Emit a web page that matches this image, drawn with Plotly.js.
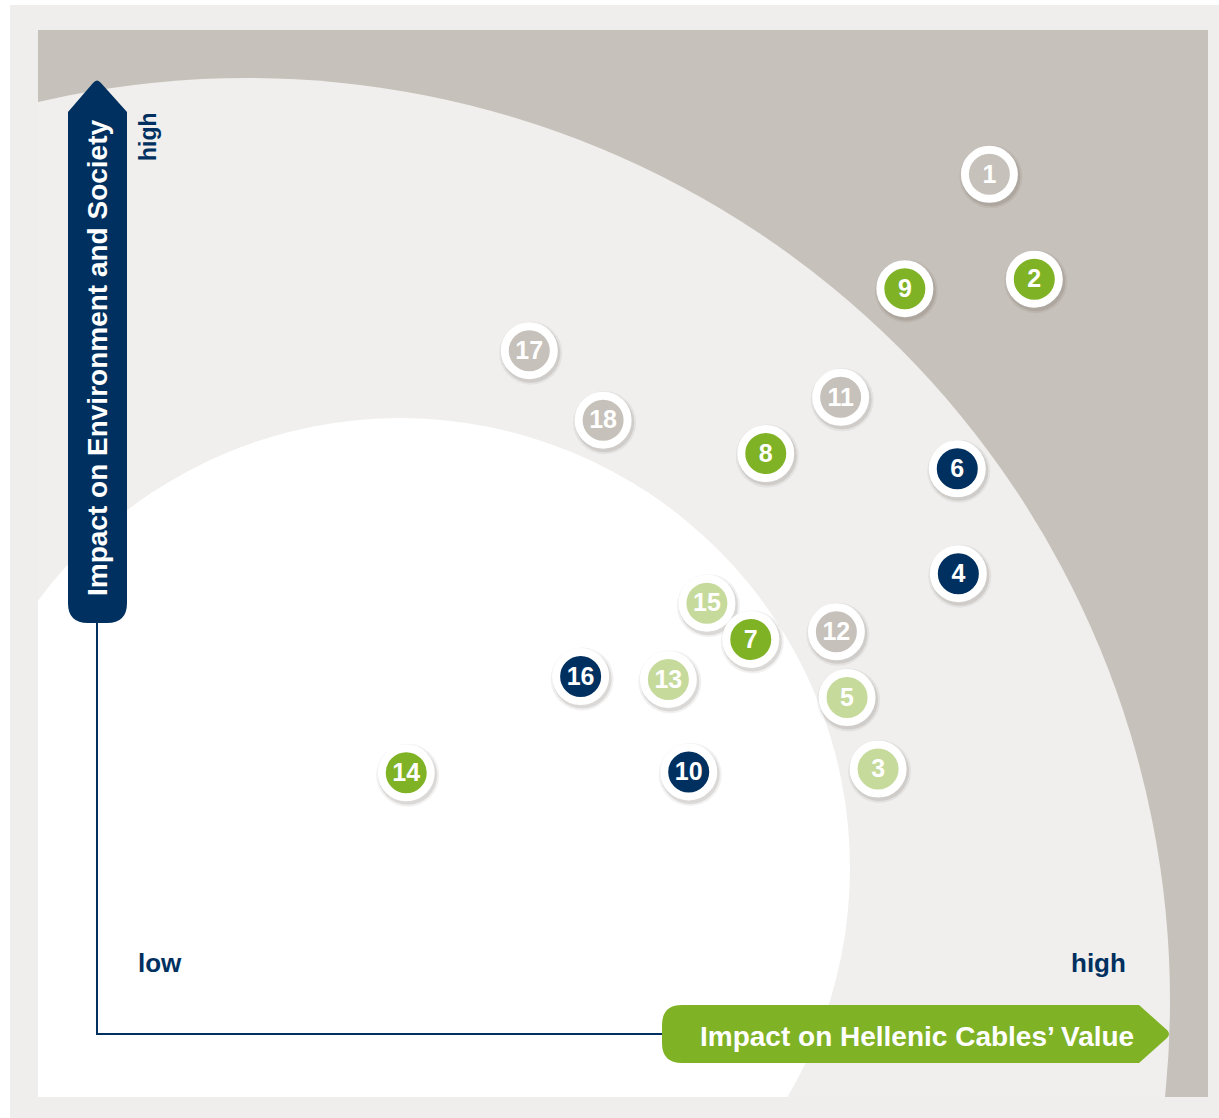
<!DOCTYPE html>
<html>
<head>
<meta charset="utf-8">
<script src="https://cdn.plot.ly/plotly-3.0.1.min.js"></script>
<style>
  html, body { margin: 0; padding: 0; background: #ffffff; }
  #chart { width: 1219px; height: 1118px; }
</style>
</head>
<body>
<div id="chart"></div>
<script>
  // materiality matrix: topic scores (0-10) on both axes
  const topicIds = [1, 2, 3, 4, 5, 6, 7, 8, 9, 10, 11, 12, 13, 14, 15, 16, 17, 18];
  const valueScore = [8.34, 8.76, 7.30, 8.05, 7.01, 8.04, 6.11, 6.25, 7.55, 5.53, 6.95, 6.91, 5.34, 2.89, 5.70, 4.52, 4.04, 4.73];
  const societyScore = [9.01, 7.91, 2.77, 4.82, 3.52, 5.92, 4.13, 6.08, 7.81, 2.74, 6.67, 4.21, 3.71, 2.73, 4.51, 3.74, 7.16, 6.43];
  const topicGroup = ["grey", "green", "lime", "navy", "lime", "navy", "green", "green", "green", "navy",
                      "grey", "grey", "lime", "green", "lime", "navy", "grey", "grey"];

  const groupColor = { navy: "#00305f", green: "#80b226", lime: "#c6da9c", grey: "#c6c1ba" };

  const W = 1219, H = 1118;
  // pixel frame of the score axes: origin at the axis corner
  const ORIGIN_X = 97, ORIGIN_Y = 1033, UNIT_X = 107, UNIT_Y = 95.3;

  const px = (x) => x / W;
  const py = (y) => 1 - y / H;

  function pathOf(pts) {
    // pts: list of [cmd, x, y, ...] in pixels -> paper path string
    return pts.map((p) => {
      const cmd = p[0];
      const nums = [];
      for (let i = 1; i < p.length; i += 2) nums.push(px(p[i]).toFixed(5) + "," + py(p[i + 1]).toFixed(5));
      return cmd + nums.join(" ");
    }).join(" ");
  }

  function rangeX(shiftPx) {
    return [(0 - ORIGIN_X - shiftPx) / UNIT_X, (W - ORIGIN_X - shiftPx) / UNIT_X];
  }
  function rangeY(shiftPx) {
    return [(ORIGIN_Y - H + shiftPx) / UNIT_Y, (ORIGIN_Y + shiftPx) / UNIT_Y];
  }

  // draw higher topics first so lower ones sit on top (7 over 15)
  const order = topicIds.map((_, i) => i).sort((a, b) => societyScore[b] - societyScore[a]);
  const xs = order.map((i) => valueScore[i]);
  const ys = order.map((i) => societyScore[i]);
  const labels = order.map((i) => String(topicIds[i]));
  const fills = order.map((i) => groupColor[topicGroup[i]]);

  const data = [
    {
      type: "scatter", mode: "markers", x: xs, y: ys, xaxis: "x", yaxis: "y",
      marker: { size: 63, color: "rgba(70,60,50,0.07)", line: { width: 0 } },
      hoverinfo: "skip",
    },
    {
      type: "scatter", mode: "markers", x: xs, y: ys, xaxis: "x", yaxis: "y",
      marker: { size: 59, color: "rgba(70,60,50,0.13)", line: { width: 0 } },
      hoverinfo: "skip",
    },
    {
      type: "scatter", mode: "markers", x: xs, y: ys, xaxis: "x2", yaxis: "y2",
      marker: { size: 49, color: fills, line: { width: 8, color: "#ffffff" } },
      hoverinfo: "skip",
    },
    {
      type: "scatter", mode: "text", x: xs, y: ys, xaxis: "x3", yaxis: "y3",
      text: labels,
      textposition: "middle center",
      textfont: { family: "Liberation Sans, Arial, sans-serif", size: 25, color: "#ffffff", weight: "bold" },
      hoverinfo: "skip",
    },
  ];

  const shapes = [
    // outer frame
    { type: "rect", xref: "paper", yref: "paper", x0: px(10), x1: px(W), y0: py(H), y1: py(5),
      fillcolor: "#efeeec", line: { width: 0 }, layer: "below" },
    // high-materiality zone
    { type: "rect", xref: "paper", yref: "paper", x0: px(38), x1: px(1208), y0: py(1097), y1: py(30),
      fillcolor: "#c6c1ba", line: { width: 0 }, layer: "below" },
    // medium zone (circle centre 247,1001 r 923)
    { type: "circle", xref: "paper", yref: "paper", x0: px(247 - 923), x1: px(247 + 923),
      y0: py(1001 + 923), y1: py(1001 - 923), fillcolor: "#f0efed", line: { width: 0 }, layer: "below" },
    // low zone (circle centre 400,868 r 450)
    { type: "circle", xref: "paper", yref: "paper", x0: px(400 - 450), x1: px(400 + 450),
      y0: py(868 + 450), y1: py(868 - 450), fillcolor: "#ffffff", line: { width: 0 }, layer: "below" },
    // frame mask over the circles
    { type: "path", xref: "paper", yref: "paper", layer: "below", fillrule: "evenodd",
      path: pathOf([["M", 10, 5], ["L", W, 5], ["L", W, H], ["L", 10, H], ["Z"],
                    ["M", 38, 30], ["L", 1208, 30], ["L", 1208, 1097], ["L", 38, 1097], ["Z"]]),
      fillcolor: "#efeeec", line: { width: 0 } },
    { type: "rect", xref: "paper", yref: "paper", x0: 0, x1: px(10), y0: 0, y1: 1,
      fillcolor: "#ffffff", line: { width: 0 }, layer: "below" },
    { type: "rect", xref: "paper", yref: "paper", x0: 0, x1: 1, y0: py(5), y1: 1,
      fillcolor: "#ffffff", line: { width: 0 }, layer: "below" },
    // axis line
    { type: "path", xref: "paper", yref: "paper", layer: "below",
      path: pathOf([["M", 97, 620], ["L", 97, 1034], ["L", 665, 1034]]),
      line: { color: "#00305f", width: 2 } },
    // vertical axis arrow
    { type: "path", xref: "paper", yref: "paper", layer: "below",
      path: pathOf([["M", 68, 112], ["L", 93, 83], ["Q", 97, 78, 101, 83], ["L", 127, 112],
                    ["L", 127, 603], ["Q", 127, 623, 107, 623], ["L", 88, 623],
                    ["Q", 68, 623, 68, 603], ["Z"]]),
      fillcolor: "#00305f", line: { width: 0 } },
    // horizontal axis arrow
    { type: "path", xref: "paper", yref: "paper", layer: "below",
      path: pathOf([["M", 682, 1005], ["L", 1139, 1005], ["L", 1167, 1030], ["Q", 1171, 1034, 1167, 1038],
                    ["L", 1139, 1063], ["L", 682, 1063], ["Q", 662, 1063, 662, 1043],
                    ["L", 662, 1025], ["Q", 662, 1005, 682, 1005], ["Z"]]),
      fillcolor: "#80b226", line: { width: 0 } },
  ];

  const font = "Liberation Sans, Arial, sans-serif";
  const annotations = [
    { text: "Impact on Environment and Society", x: px(97), y: py(358), textangle: -90,
      font: { family: font, size: 28, color: "#ffffff", weight: "bold" } },
    { text: "Impact on Hellenic Cables’ Value", x: px(917), y: py(1036),
      font: { family: font, size: 28, color: "#ffffff", weight: "bold" } },
    { text: "high", x: px(148), y: py(137), textangle: -90,
      font: { family: font, size: 23, color: "#00305f", weight: "bold" } },
    { text: "low", x: px(160), y: py(963),
      font: { family: font, size: 26, color: "#00305f", weight: "bold" } },
    { text: "high", x: px(1098), y: py(963),
      font: { family: font, size: 26, color: "#00305f", weight: "bold" } },
  ].map((a) => Object.assign({ xref: "paper", yref: "paper", showarrow: false,
                               xanchor: "center", yanchor: "middle" }, a));

  const hiddenAxis = { visible: false, fixedrange: true, showgrid: false, zeroline: false };

  const layout = {
    width: W,
    height: H,
    margin: { l: 0, r: 0, t: 0, b: 0, pad: 0 },
    paper_bgcolor: "#ffffff",
    plot_bgcolor: "rgba(0,0,0,0)",
    showlegend: false,
    hovermode: false,
    // shadow axes: discs drawn 1.5px right, 2.5px down
    xaxis: Object.assign({ range: rangeX(1.5) }, hiddenAxis),
    yaxis: Object.assign({ range: rangeY(2.5) }, hiddenAxis),
    xaxis2: Object.assign({ range: rangeX(0), overlaying: "x" }, hiddenAxis),
    yaxis2: Object.assign({ range: rangeY(0), overlaying: "y" }, hiddenAxis),
    // label axes: numbers nudged 2px down to sit centred in the discs
    xaxis3: Object.assign({ range: rangeX(0), overlaying: "x" }, hiddenAxis),
    yaxis3: Object.assign({ range: rangeY(2), overlaying: "y" }, hiddenAxis),
    shapes: shapes,
    annotations: annotations,
  };

  Plotly.newPlot("chart", data, layout, { displayModeBar: false, staticPlot: true });
</script>
</body>
</html>
